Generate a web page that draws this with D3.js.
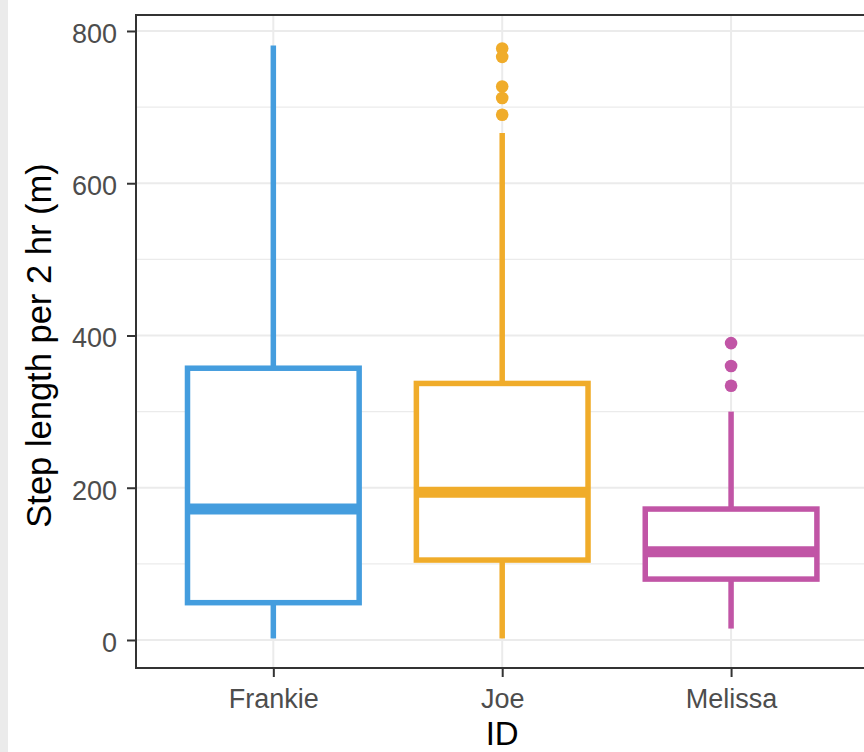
<!DOCTYPE html>
<html>
<head>
<meta charset="utf-8">
<script src="https://cdn.jsdelivr.net/npm/d3@7"></script>
<style>
  html, body { margin: 0; padding: 0; background: #ffffff; }
  svg { display: block; }
  text { font-family: "Liberation Sans", Arial, sans-serif; }
</style>
</head>
<body>
<svg id="chart" width="864" height="752"></svg>
<script>
// ---- data ----
const categories = ["Frankie", "Joe", "Melissa"];
const colors = ["#449dde", "#f0ac2a", "#c155a6"];
const whiskerLow = [2, 2, 15];
const q1 = [49, 105, 80];
const median = [172, 194, 116];
const q3 = [357, 337, 172];
const whiskerHigh = [781, 666, 300];
const outliersJoe = [777, 766, 727, 712, 690];
const outliersMelissa = [390, 360, 334];
const outliers = [[], outliersJoe, outliersMelissa];
const yTicks = [0, 200, 400, 600, 800];
const yMinor = [100, 300, 500, 700];
const yTitle = "Step length per 2 hr (m)";
const xTitle = "ID";

// ---- layout ----
const svg = d3.select("#chart");
const panel = { left: 136, top: 15, right: 868.4, bottom: 668 };

svg.append("rect").attr("x", 0).attr("y", 0).attr("width", 8).attr("height", 752).attr("fill", "#ebebeb");

const x = d3.scalePoint().domain(categories).range([panel.left, panel.right]).padding(0.6);
const y = d3.scaleLinear().domain([-36.8, 821]).range([panel.bottom, panel.top]);
const step = x.step();
const boxW = step * 0.75;

const g = svg.append("g");

// gridlines
g.selectAll("line.minor").data(yMinor).join("line")
  .attr("x1", panel.left).attr("x2", panel.right)
  .attr("y1", d => y(d)).attr("y2", d => y(d))
  .attr("stroke", "#ebebeb").attr("stroke-width", 1.1);
g.selectAll("line.major").data(yTicks).join("line")
  .attr("x1", panel.left).attr("x2", panel.right)
  .attr("y1", d => y(d)).attr("y2", d => y(d))
  .attr("stroke", "#ebebeb").attr("stroke-width", 2);
g.selectAll("line.vmajor").data(categories).join("line")
  .attr("x1", d => x(d)).attr("x2", d => x(d))
  .attr("y1", panel.top).attr("y2", panel.bottom)
  .attr("stroke", "#ebebeb").attr("stroke-width", 2);

// boxes
categories.forEach((c, i) => {
  const cx = x(c);
  const col = colors[i];
  const bg = g.append("g");
  bg.append("line").attr("x1", cx).attr("x2", cx)
    .attr("y1", y(q3[i])).attr("y2", y(whiskerHigh[i]))
    .attr("stroke", col).attr("stroke-width", 5.5);
  bg.append("line").attr("x1", cx).attr("x2", cx)
    .attr("y1", y(q1[i])).attr("y2", y(whiskerLow[i]))
    .attr("stroke", col).attr("stroke-width", 5.5);
  bg.append("rect")
    .attr("x", cx - boxW / 2).attr("width", boxW)
    .attr("y", y(q3[i])).attr("height", y(q1[i]) - y(q3[i]))
    .attr("fill", "#ffffff").attr("stroke", col).attr("stroke-width", 5.5);
  bg.append("line")
    .attr("x1", cx - boxW / 2).attr("x2", cx + boxW / 2)
    .attr("y1", y(median[i])).attr("y2", y(median[i]))
    .attr("stroke", col).attr("stroke-width", 11);
  bg.selectAll("circle").data(outliers[i]).join("circle")
    .attr("cx", cx).attr("cy", d => y(d)).attr("r", 6.3)
    .attr("fill", col);
});

// panel border
g.append("rect")
  .attr("x", panel.left).attr("y", panel.top)
  .attr("width", panel.right - panel.left).attr("height", panel.bottom - panel.top)
  .attr("fill", "none").attr("stroke", "#333333").attr("stroke-width", 2);

// y axis
const yAxis = svg.append("g").attr("transform", `translate(${panel.left},0)`)
  .call(d3.axisLeft(y).tickValues(yTicks).tickSize(9).tickPadding(10).tickFormat(d3.format("d")));
yAxis.select(".domain").remove();
yAxis.selectAll(".tick line").attr("stroke", "#333333").attr("stroke-width", 2);
yAxis.selectAll(".tick text").attr("fill", "#4d4d4d").attr("font-size", "27px")
  .attr("dy", "0.42em").style("font-family", "'Liberation Sans', Arial, sans-serif");

// x axis
const xAxis = svg.append("g").attr("transform", `translate(0,${panel.bottom})`)
  .call(d3.axisBottom(x).tickSize(9).tickPadding(12));
xAxis.select(".domain").remove();
xAxis.selectAll(".tick line").attr("stroke", "#333333").attr("stroke-width", 2);
xAxis.selectAll(".tick text").attr("fill", "#4d4d4d").attr("font-size", "27px")
  .style("font-family", "'Liberation Sans', Arial, sans-serif");

// titles
svg.append("text")
  .attr("transform", `translate(51,${(panel.top + panel.bottom) / 2 + 4}) rotate(-90)`)
  .attr("text-anchor", "middle").attr("font-size", "34.5px").attr("fill", "#000000")
  .text(yTitle);
svg.append("text")
  .attr("x", x(categories[1])).attr("y", 745)
  .attr("text-anchor", "middle").attr("font-size", "33px").attr("fill", "#000000")
  .text(xTitle);
</script>
</body>
</html>
